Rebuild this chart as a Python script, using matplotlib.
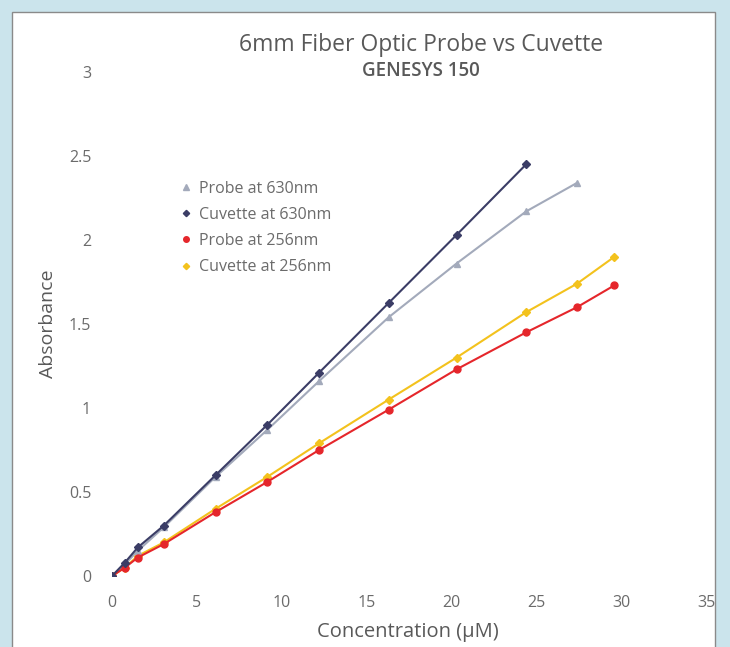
import matplotlib
matplotlib.use("Agg")
import matplotlib.pyplot as plt
from matplotlib.patches import Rectangle

plt.rcParams['font.family'] = ['Open Sans', 'DejaVu Sans']

# ---- data ----
conc_probe630 = [0, 0.76, 1.52, 3.05, 6.1, 9.15, 12.2, 16.3, 20.3, 24.4, 27.4]
probe630 = [0, 0.07, 0.15, 0.29, 0.59, 0.87, 1.16, 1.54, 1.86, 2.17, 2.34]
conc_cuvette630 = [0, 0.76, 1.52, 3.05, 6.1, 9.15, 12.2, 16.3, 20.3, 24.4]
cuvette630 = [0, 0.08, 0.17, 0.30, 0.60, 0.90, 1.21, 1.625, 2.03, 2.45]
conc_256 = [0, 0.76, 1.52, 3.05, 6.1, 9.15, 12.2, 16.3, 20.3, 24.4, 27.4, 29.6]
probe256 = [0, 0.05, 0.11, 0.19, 0.38, 0.56, 0.75, 0.99, 1.23, 1.45, 1.60, 1.73]
cuvette256 = [0, 0.05, 0.12, 0.20, 0.40, 0.59, 0.79, 1.05, 1.30, 1.57, 1.74, 1.90]

x_ticks = [0, 5, 10, 15, 20, 25, 30, 35]
y_ticks = [0, 0.5, 1, 1.5, 2, 2.5, 3]
y_tick_labels = ['0', '0.5', '1', '1.5', '2', '2.5', '3']
labels = ['Probe at 630nm', 'Cuvette at 630nm', 'Probe at 256nm', 'Cuvette at 256nm']
title = '6mm Fiber Optic Probe vs Cuvette'
subtitle = 'GENESYS 150'

W, H = 730, 647
fig = plt.figure(figsize=(W / 100, H / 100), dpi=100)
fig.patch.set_facecolor('#cbe4ec')

# white panel with thin border
fig.patches.append(Rectangle((12 / W, -0.05), (715 - 12) / W, 1.05 - 12 / H,
                             transform=fig.transFigure, facecolor='white',
                             edgecolor='#8a8a8a', linewidth=1.0, zorder=-5))

ax = fig.add_axes([112 / W, 1 - 576 / H, (706 - 112) / W, (576 - 72) / H])
ax.set_zorder(2)
ax.set_facecolor('none')

ax.plot(conc_probe630, probe630, color='#a3aabb', lw=1.5, marker='^', ms=5,
        label=labels[0], zorder=3)
ax.plot(conc_cuvette630, cuvette630, color='#3b3d66', lw=1.5, marker='D', ms=4,
        label=labels[1], zorder=4)
ax.plot(conc_256, probe256, color='#e5262b', lw=1.5, marker='o', ms=5,
        label=labels[2], zorder=3)
ax.plot(conc_256, cuvette256, color='#f3c21d', lw=1.5, marker='D', ms=4,
        label=labels[3], zorder=2)

ax.set_xlim(0, 35)
ax.set_ylim(0, 3)
ax.set_xticks(x_ticks)
ax.set_yticks(y_ticks)
ax.set_yticklabels(y_tick_labels)
for s in ax.spines.values():
    s.set_visible(False)
ax.tick_params(axis='both', length=0, colors='#6b6b6b', labelsize=11.5)
ax.tick_params(axis='x', pad=14)
ax.tick_params(axis='y', pad=15)

ax.set_xlabel('Concentration (µM)', fontsize=14.5, color='#595959', va='center')
ax.set_ylabel('Absorbance', fontsize=14, color='#595959', va='center')
ax.xaxis.set_label_coords((408 - 112) / 594, (576 - 632) / 504)
ax.yaxis.set_label_coords((48 - 112) / 594, (576 - 324) / 504)

fig.text(421 / W, 1 - 45 / H, title, ha='center', va='center', fontsize=16.5,
         color='#595959')
fig.text(421 / W, 1 - 71 / H, subtitle, ha='center', va='center', fontsize=13.5,
         color='#595959', fontweight='semibold')

leg = ax.legend(loc='upper left', bbox_to_anchor=(0.092, 0.813), frameon=False,
                fontsize=11.5, handlelength=0.6, handletextpad=0.5,
                labelspacing=0.64, markerscale=0.8)
for t in leg.get_texts():
    t.set_color('#6b6b6b')
for h in leg.legend_handles:
    h.set_linestyle('none')

fig.savefig('out.png', dpi=100, facecolor=fig.get_facecolor())
